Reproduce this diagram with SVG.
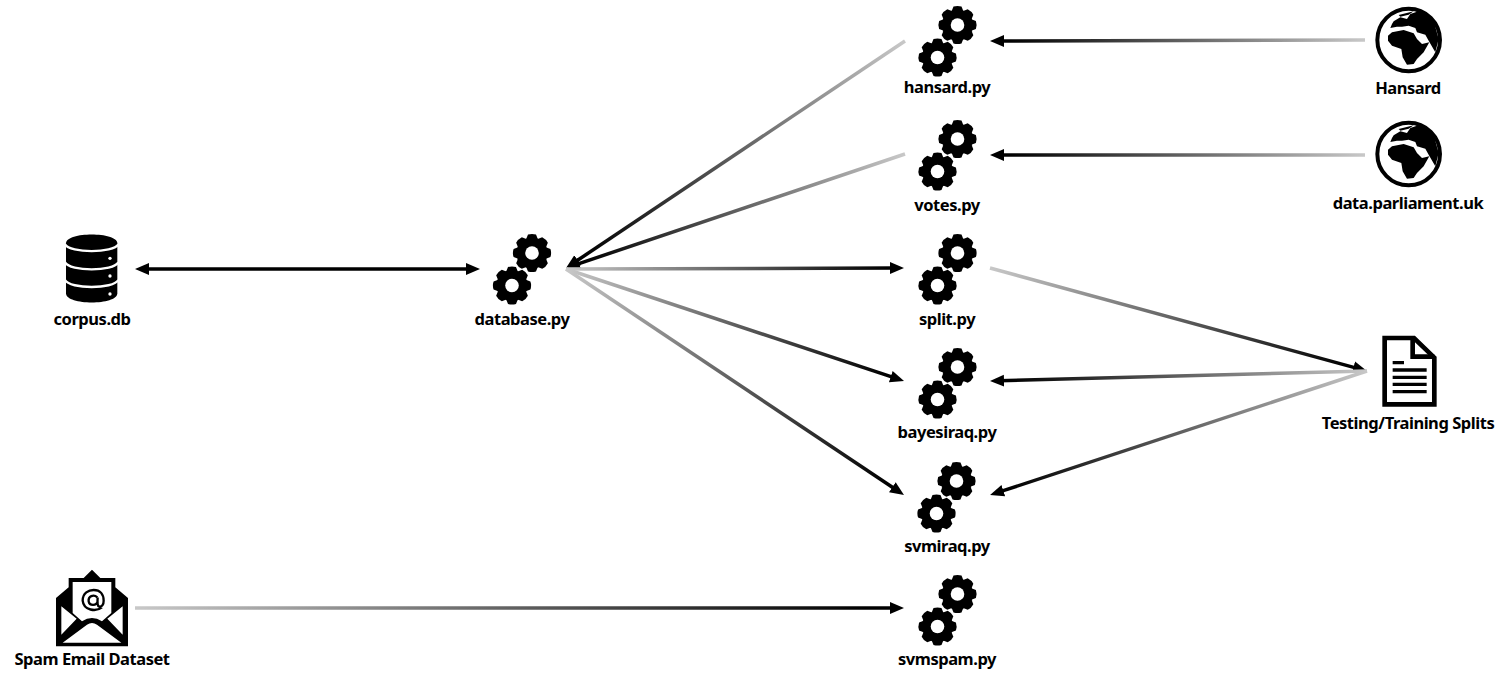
<svg xmlns="http://www.w3.org/2000/svg" xmlns:xlink="http://www.w3.org/1999/xlink" width="1503" height="676" viewBox="0 0 1503 676">
<style>
text{font-family:"Noto Sans","Open Sans","Liberation Sans",sans-serif;font-weight:700;font-size:16.5px;letter-spacing:-.46px;text-anchor:middle;fill:#000}
.c{fill:none;stroke-width:3.5}
.a{marker-end:url(#ah)}
</style>
<defs>
<marker id="ah" markerUnits="userSpaceOnUse" markerWidth="16" markerHeight="14" refX="5" refY="7" orient="auto"><path d="M0 1L14 7L0 13Z" fill="#000"/></marker>
<marker id="as" markerUnits="userSpaceOnUse" markerWidth="16" markerHeight="14" refX="9" refY="7" orient="auto"><path d="M14 1L0 7L14 13Z" fill="#000"/></marker>
<linearGradient id="l1" gradientUnits="userSpaceOnUse" x1="905" y1="41" x2="566" y2="268"><stop offset="0" stop-color="#c8c8c8"/><stop offset=".95" stop-color="#000"/></linearGradient>
<linearGradient id="l2" gradientUnits="userSpaceOnUse" x1="905" y1="154" x2="566" y2="268"><stop offset="0" stop-color="#c8c8c8"/><stop offset=".95" stop-color="#000"/></linearGradient>
<linearGradient id="l3" gradientUnits="userSpaceOnUse" x1="566" y1="269" x2="904" y2="268"><stop offset="0" stop-color="#c8c8c8"/><stop offset=".95" stop-color="#000"/></linearGradient>
<linearGradient id="l4" gradientUnits="userSpaceOnUse" x1="566" y1="269" x2="904" y2="381"><stop offset="0" stop-color="#c8c8c8"/><stop offset=".95" stop-color="#000"/></linearGradient>
<linearGradient id="l5" gradientUnits="userSpaceOnUse" x1="566" y1="269" x2="904" y2="495"><stop offset="0" stop-color="#c8c8c8"/><stop offset=".95" stop-color="#000"/></linearGradient>
<linearGradient id="l6" gradientUnits="userSpaceOnUse" x1="1365" y1="40" x2="990" y2="41"><stop offset="0" stop-color="#c8c8c8"/><stop offset=".95" stop-color="#000"/></linearGradient>
<linearGradient id="l7" gradientUnits="userSpaceOnUse" x1="1365" y1="155" x2="990" y2="155"><stop offset="0" stop-color="#c8c8c8"/><stop offset=".95" stop-color="#000"/></linearGradient>
<linearGradient id="l8" gradientUnits="userSpaceOnUse" x1="990" y1="268" x2="1367" y2="371"><stop offset="0" stop-color="#c8c8c8"/><stop offset=".95" stop-color="#000"/></linearGradient>
<linearGradient id="l9" gradientUnits="userSpaceOnUse" x1="1367" y1="371" x2="990" y2="381"><stop offset="0" stop-color="#c8c8c8"/><stop offset=".95" stop-color="#000"/></linearGradient>
<linearGradient id="l10" gradientUnits="userSpaceOnUse" x1="1367" y1="371" x2="990" y2="495"><stop offset="0" stop-color="#c8c8c8"/><stop offset=".95" stop-color="#000"/></linearGradient>
<linearGradient id="l11" gradientUnits="userSpaceOnUse" x1="135" y1="608" x2="904" y2="608"><stop offset="0" stop-color="#c8c8c8"/><stop offset=".95" stop-color="#000"/></linearGradient>
<g id="gear">
<circle r="15.5"/>
<g id="bar"><path d="M-5.6-14.5L-4-18.4Q0-19.8 4-18.4L5.6-14.5V14.5L4 18.4Q0 19.8-4 18.4L-5.6 14.5Z"/></g>
<use href="#bar" transform="rotate(45)"/><use href="#bar" transform="rotate(90)"/><use href="#bar" transform="rotate(135)"/>
<circle r="6.8" fill="#fff"/>
</g>
<g id="gears"><use href="#gear" transform="translate(20,-32.5)"/><use href="#gear"/></g>
<g id="globe" transform="translate(1372,4) scale(.3333)">
<circle cx="110" cy="108" r="94" fill="#fff" stroke="#000" stroke-width="12"/>
<path d="M48 95L60 85L95 78L125 88L135 105L150 120L172 115L155 145L135 165L125 180L105 182L92 160L88 135L60 125L48 110Z"/>
<path d="M65 52L85 40L105 45L115 30L150 18L185 50L200 105L190 145L170 110L160 92L135 85L130 72L110 65L90 68L75 68L55 72L60 60Z"/>
<path d="M80 33L125 22L110 32L85 38Z"/>
</g>
</defs>
<g id="connectors">
<path class="c" stroke="#000" d="M144 269H471" marker-start="url(#as)" marker-end="url(#ah)"/>
<path class="c a" stroke="url(#l1)" d="M905 41L573.5 263"/>
<path class="c a" stroke="url(#l2)" d="M905 154L574.5 265.1"/>
<path class="c a" stroke="url(#l3)" d="M566 269L895 268.02"/>
<path class="c a" stroke="url(#l4)" d="M566 269L895.5 378.2"/>
<path class="c a" stroke="url(#l5)" d="M566 269L896.5 490"/>
<path class="c a" stroke="url(#l6)" d="M1365 40L999 41"/>
<path class="c a" stroke="url(#l7)" d="M1365 155H999"/>
<path class="c a" stroke="url(#l8)" d="M990 268L1358.3 368.6"/>
<path class="c a" stroke="url(#l9)" d="M1367 371L999 380.8"/>
<path class="c a" stroke="url(#l10)" d="M1367 371L998.6 492.2"/>
<path class="c a" stroke="url(#l11)" d="M135 608H895"/>
</g>
<g id="corpus-db">
<g transform="translate(40,225) scale(.3333)">
<path d="M78 55C78 20 232 20 232 55V205C232 242 78 242 78 205Z"/>
<g fill="none" stroke="#fff" stroke-width="7"><path d="M75 58C90 85 220 85 235 58"/><path d="M75 112C90 140 220 140 235 112"/><path d="M75 165C90 193 220 193 235 165"/></g>
<g fill="#fff"><circle cx="210" cy="100" r="5"/><circle cx="210" cy="153" r="5"/><circle cx="210" cy="207" r="5"/></g>
</g>
<text x="92" y="325">corpus.db</text>
</g>
<g id="database-py"><use href="#gears" x="512" y="285.5"/><text x="522" y="325">database.py</text></g>
<g id="hansard-py"><use href="#gears" x="937.5" y="57.5"/><text x="947" y="93">hansard.py</text></g>
<g id="votes-py"><use href="#gears" x="937.5" y="171.5"/><text x="947" y="211">votes.py</text></g>
<g id="split-py"><use href="#gears" x="937.5" y="285.5"/><text x="947" y="325">split.py</text></g>
<g id="bayesiraq-py"><use href="#gears" x="937.5" y="399.5"/><text x="947" y="438">bayesiraq.py</text></g>
<g id="svmiraq-py"><use href="#gears" x="936.5" y="513.5"/><text x="947" y="552">svmiraq.py</text></g>
<g id="svmspam-py"><use href="#gears" x="937.5" y="626.5"/><text x="947" y="665">svmspam.py</text></g>
<g id="hansard"><use href="#globe"/><text x="1408" y="94">Hansard</text></g>
<g id="data-parliament-uk"><use href="#globe" y="114"/><text x="1408" y="209">data.parliament.uk</text></g>
<g id="splits">
<g transform="translate(1310,325) scale(.3333)">
<path d="M224 39H312L373 98V238H224Z" fill="#fff" stroke="#000" stroke-width="14"/>
<path d="M308 39V95H373" fill="none" stroke="#000" stroke-width="14"/>
<path d="M248 108H282V118H248ZM248 130H350V140H248ZM248 152H350V162H248ZM248 173H350V183H248ZM248 195H350V205H248Z"/>
</g>
<text x="1408" y="429">Testing/Training Splits</text>
</g>
<g id="spam-email-dataset">
<g transform="translate(52,568) scale(.3333)">
<path d="M12 90L50 58V30H95L120 5L145 30H190V58L228 90V235H12Z"/>
<path d="M62 42H178V135L150 160Q135 150 120 150Q105 150 90 160L62 135Z" fill="#fff"/>
<path d="M28 115L74 152L28 200ZM212 115L166 152L212 200ZM32 224L105 170Q120 160 135 170L208 224Z" fill="#fff"/>
<path d="M150 118C132 132 95 128 92 98C92 75 110 66 125 66C145 66 155 80 155 98C155 108 150 118 142 116C135 114 136 105 137 88M137 100C134 114 112 114 110 100C108 84 125 78 136 88" fill="none" stroke="#000" stroke-width="7"/>
</g>
<text x="92" y="665">Spam Email Dataset</text>
</g>
</svg>
